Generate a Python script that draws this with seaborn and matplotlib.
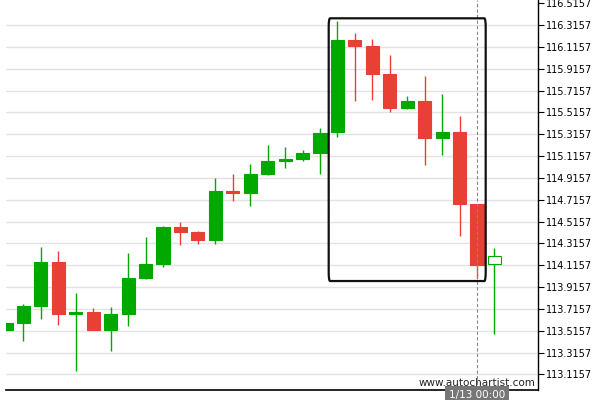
import seaborn as sns
import matplotlib.pyplot as plt
import matplotlib.patches as patches
import numpy as np
import pandas as pd

# candle data (oldest -> newest)
opens = [113.523, 113.587, 113.742, 114.145, 113.672, 113.688, 113.523, 113.672, 113.999, 114.127,
         114.466, 114.420, 114.347, 114.796, 114.777, 114.951, 115.070, 115.088, 115.143, 115.336,
         116.178, 116.123, 115.867, 115.558, 115.620, 115.284, 115.336, 114.679, 114.124]
closes = [113.587, 113.742, 114.145, 113.672, 113.690, 113.523, 113.669, 113.999, 114.127, 114.466,
          114.420, 114.347, 114.796, 114.777, 114.951, 115.070, 115.088, 115.143, 115.327, 116.178,
          116.126, 115.870, 115.558, 115.620, 115.284, 115.336, 114.679, 114.121, 114.197]
highs = [113.590, 113.761, 114.283, 114.246, 113.859, 113.721, 113.733, 114.228, 114.374, 114.475,
         114.512, 114.429, 114.912, 114.954, 115.043, 115.217, 115.198, 115.171, 115.373, 116.350,
         116.240, 116.185, 116.041, 115.663, 115.846, 115.681, 115.479, 114.679, 114.271]
lows = [113.520, 113.425, 113.626, 113.566, 113.147, 113.520, 113.328, 113.557, 113.993, 114.102,
        114.304, 114.313, 114.313, 114.707, 114.661, 114.945, 115.003, 115.070, 114.951, 115.290,
        115.617, 115.626, 115.516, 115.549, 115.036, 115.122, 114.381, 114.001, 113.486]

y_ticks = [113.1157 + 0.2 * k for k in range(18)]
box_start, box_end = 18.5, 27.5
box_low, box_high = 113.971, 116.377
marker_idx = 27
marker_label = "1/13 00:00"
watermark = "www.autochartist.com"

GREEN = "#00a800"
RED = "#e84035"

df = pd.DataFrame({"open": opens, "high": highs, "low": lows, "close": closes})
df["x"] = np.arange(len(df))
df["up"] = df["close"] >= df["open"]
df["color"] = np.where(df["up"], GREEN, RED)
df["bottom"] = df[["open", "close"]].min(axis=1)
df["height"] = (df["close"] - df["open"]).abs().clip(lower=0.016)

sns.set_style("white")
plt.rcParams["font.family"] = ["DejaVu Sans"]

fig = plt.figure(figsize=(6, 4), dpi=100)
ax = fig.add_axes([0.01, 0.025, 0.8867, 0.975])

# grid lines (none at the topmost tick)
for y in y_ticks[:-1]:
    ax.axhline(y, color="#e3e3e3", lw=1.0, zorder=0)

ax.vlines(df["x"], df["low"], df["high"], colors=df["color"], lw=1.0, zorder=2)
face = list(df["color"])
face[-1] = "white"
ax.bar(df["x"], df["height"], bottom=df["bottom"], width=0.75, color=face,
       edgecolor=df["color"], linewidth=0.8, zorder=3)

ax.axvline(marker_idx, color="#888888", lw=0.8, ls=(0, (3, 2)), zorder=4)

rect = patches.FancyBboxPatch((box_start, box_low), box_end - box_start, box_high - box_low,
                              boxstyle="round,pad=0,rounding_size=0.08", fill=False,
                              edgecolor="#111111", lw=1.6, zorder=5)
ax.add_patch(rect)

ax.set_xlim(0, 30.5)
ax.set_ylim(112.973, 116.5446)
ax.set_xticks([])
ax.yaxis.tick_right()
ax.set_yticks(y_ticks)
ax.set_yticklabels([f"{v:.4f}" for v in y_ticks])
ax.tick_params(axis="y", direction="out", length=4, width=0.8, pad=2, labelsize=7,
               colors="black", right=True)
for side in ["left", "top"]:
    ax.spines[side].set_visible(False)
ax.spines["right"].set_color("black")
ax.spines["right"].set_linewidth(1.0)
ax.spines["bottom"].set_color("black")
ax.spines["bottom"].set_linewidth(1.2)

ax.text(0.996, 0.006, watermark, transform=ax.transAxes, ha="right", va="bottom",
        fontsize=7.5, color="#222222", zorder=6)

x_fig = ax.transData.transform((marker_idx, 0))[0] / fig.bbox.width
fig.text(x_fig, 0.0, marker_label, ha="center", va="bottom", fontsize=7.5, color="white",
         bbox=dict(boxstyle="square,pad=0.4", fc="#777777", ec="none"), zorder=10)

fig.savefig("out.png", dpi=100)
